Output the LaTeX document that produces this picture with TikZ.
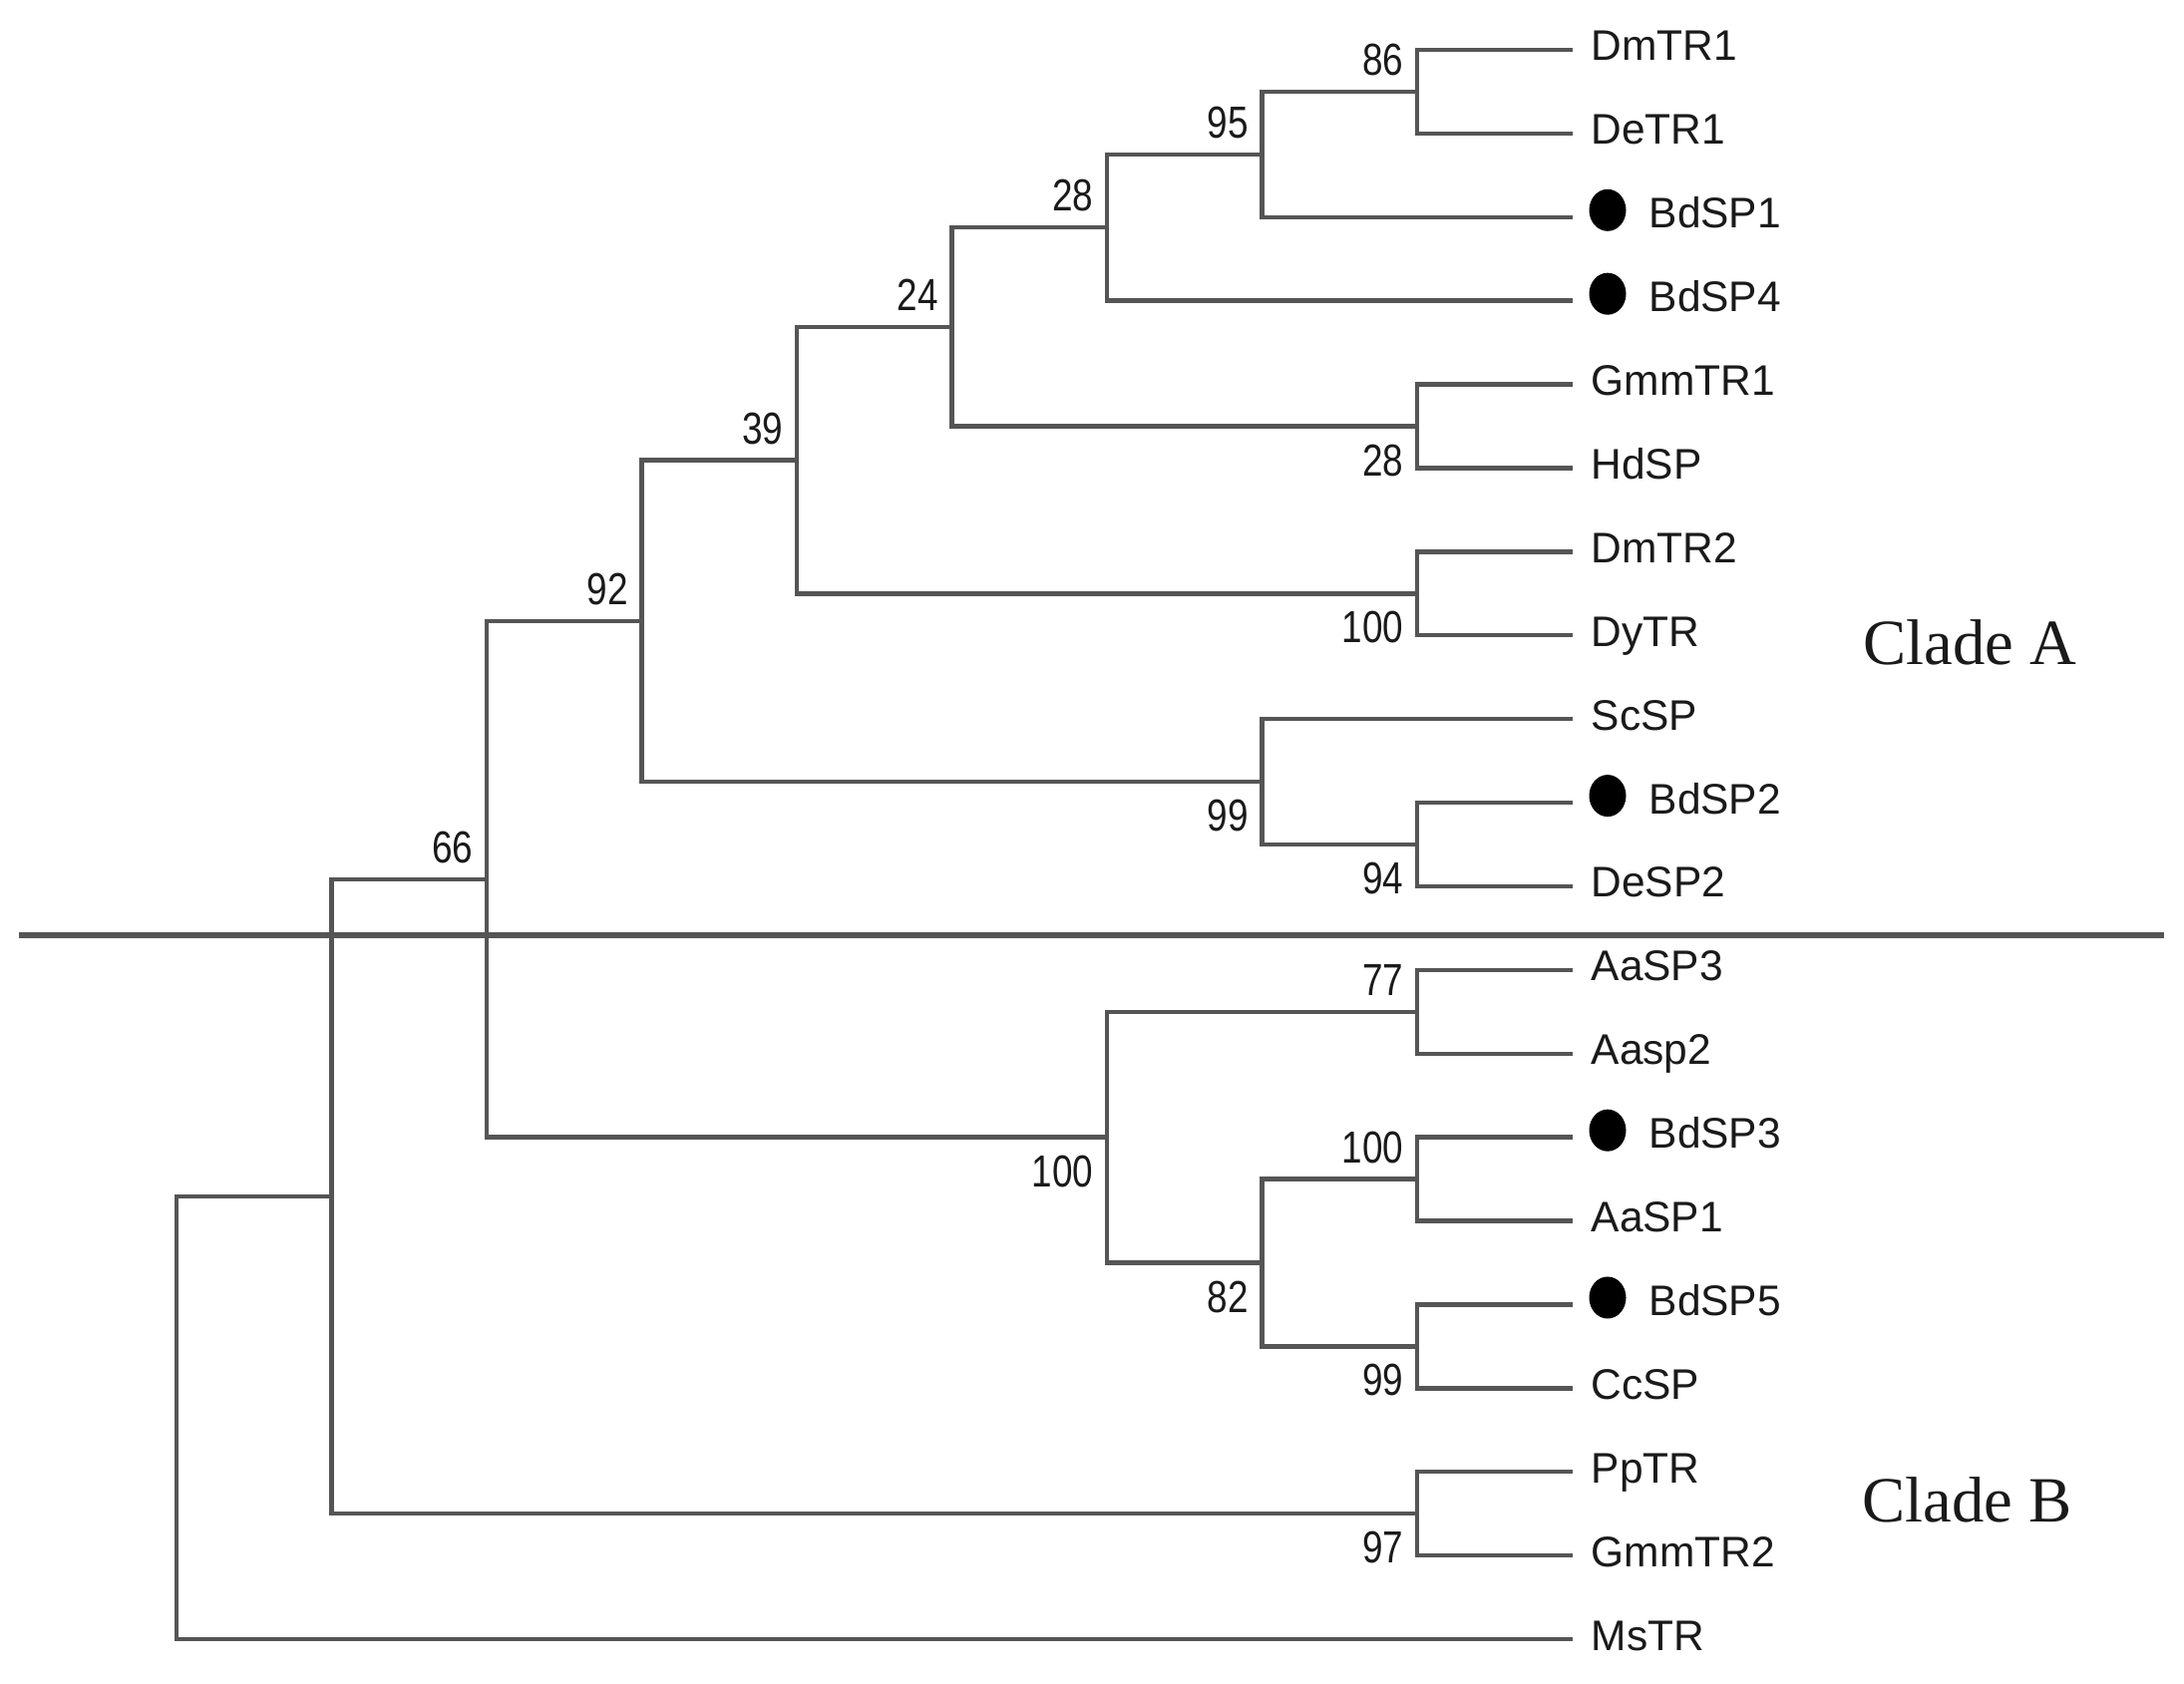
\documentclass[tikz,border=0pt]{standalone}
\usepackage{fontspec}
\usetikzlibrary{calc,shapes.geometric}
\newfontfamily\leaffont[FakeStretch=0.99]{Liberation Sans}
\newfontfamily\bsfont[FakeStretch=0.82]{Liberation Sans}
\newfontfamily\cladefont{Liberation Serif}
\definecolor{branch}{HTML}{555555}
\definecolor{txt}{HTML}{1A1A1A}
\begin{document}
\begin{tikzpicture}[x=0.01cm,y=-0.01cm,
  br/.style={draw=branch,line width=1.25pt,line join=miter},
  sep/.style={draw=branch,line width=1.7pt},
  leaf/.style={anchor=base west,inner sep=0pt,text=txt,font=\leaffont\fontsize{12.2pt}{14pt}\selectfont},
  bs/.style={anchor=east,inner sep=0pt,text=txt,font=\bsfont\fontsize{12.8pt}{14pt}\selectfont},
  clade/.style={anchor=base west,inner sep=0pt,text=txt,font=\cladefont\fontsize{18.4pt}{20pt}\selectfont},
  dotmark/.style={ellipse,fill=black,inner sep=0pt,minimum width=0.37cm,minimum height=0.42cm}]
\useasboundingbox (0,0) rectangle (2190,1689);
% leaf ends
\foreach \i/\n in {0/l0,1/l1,2/l2,3/l3,4/l4,5/l5,6/l6,7/l7,8/l8,9/l9,10/l10,11/l11,12/l12,13/l13,14/l14,15/l15,16/l16,17/l17,18/l18,19/l19}
  \coordinate (\n) at (1577,{50+83.9*\i});
% internal nodes
\coordinate (a86) at (1421,91.95);
\coordinate (a95) at (1265.5,154.9);
\coordinate (a28) at (1110,228.3);
\coordinate (b28) at (1421,427.55);
\coordinate (a24) at (954.5,327.9);
\coordinate (a100) at (1421,595.35);
\coordinate (a39) at (799,461.6);
\coordinate (a94) at (1421,847.05);
\coordinate (a99) at (1265.5,784.1);
\coordinate (a92) at (643.5,622.9);
\coordinate (a77) at (1421,1014.85);
\coordinate (b100) at (1421,1182.65);
\coordinate (b99) at (1421,1350.45);
\coordinate (a82) at (1265.5,1266.55);
\coordinate (c100) at (1110,1140.7);
\coordinate (a66) at (488,881.8);
\coordinate (a97) at (1421,1518.25);
\coordinate (r1) at (332.5,1200);
\coordinate (root) at (177,1422);
% branches
\draw[br] (l0) -| (a86) |- (l1);
\draw[br] (a86) -| (a95) |- (l2);
\draw[br] (a95) -| (a28) |- (l3);
\draw[br] (l4) -| (b28) |- (l5);
\draw[br] (a28) -| (a24) |- (b28);
\draw[br] (l6) -| (a100) |- (l7);
\draw[br] (a24) -| (a39) |- (a100);
\draw[br] (l9) -| (a94) |- (l10);
\draw[br] (l8) -| (a99) |- (a94);
\draw[br] (a39) -| (a92) |- (a99);
\draw[br] (l11) -| (a77) |- (l12);
\draw[br] (l13) -| (b100) |- (l14);
\draw[br] (l15) -| (b99) |- (l16);
\draw[br] (b100) -| (a82) |- (b99);
\draw[br] (a77) -| (c100) |- (a82);
\draw[br] (a92) -| (a66) |- (c100);
\draw[br] (l17) -| (a97) |- (l18);
\draw[br] (a66) -| (r1) |- (a97);
\draw[br] (r1) -| (root) |- (l19);
% separator
\coordinate (sepL) at (19,938);
\coordinate (sepR) at (2170,938);
\draw[sep] (sepL) -- (sepR);
% leaf labels
\foreach \i/\t in {0/DmTR1,1/DeTR1,4/GmmTR1,5/HdSP,6/DmTR2,7/DyTR,8/ScSP,10/DeSP2,11/AaSP3,12/Aasp2,14/AaSP1,16/CcSP,17/PpTR,18/GmmTR2,19/MsTR}
  \node[leaf] (t\i) at (1595,{61+83.9*\i}) {\t};
\foreach \i/\t in {2/BdSP1,3/BdSP4,9/BdSP2,13/BdSP3,15/BdSP5}{
  \node[dotmark] (d\i) at (1612,{43+83.9*\i}) {};
  \node[leaf] (t\i) at (1653,{61+83.9*\i}) {\t};
}
% bootstrap values
\node[bs] (v86) at ($(a86)+(-13,-32)$) {86};
\node[bs] (v95) at ($(a95)+(-13,-32)$) {95};
\node[bs] (v28a) at ($(a28)+(-13,-32)$) {28};
\node[bs] (v28b) at ($(b28)+(-13,34)$) {28};
\node[bs] (v24) at ($(a24)+(-13,-32)$) {24};
\node[bs] (v100a) at ($(a100)+(-13,34)$) {100};
\node[bs] (v39) at ($(a39)+(-13,-32)$) {39};
\node[bs] (v94) at ($(a94)+(-13,34)$) {94};
\node[bs] (v99a) at ($(a99)+(-13,34)$) {99};
\node[bs] (v92) at ($(a92)+(-13,-32)$) {92};
\node[bs] (v77) at ($(a77)+(-13,-32)$) {77};
\node[bs] (v100b) at ($(b100)+(-13,-32)$) {100};
\node[bs] (v99b) at ($(b99)+(-13,34)$) {99};
\node[bs] (v82) at ($(a82)+(-13,34)$) {82};
\node[bs] (v100c) at ($(c100)+(-13,34)$) {100};
\node[bs] (v66) at ($(a66)+(-13,-32)$) {66};
\node[bs] (v97) at ($(a97)+(-13,34)$) {97};
% clade labels
\node[clade] (cA) at (1868,667) {Clade A};
\node[clade] (cB) at (1867,1527) {Clade B};
\end{tikzpicture}
\end{document}
